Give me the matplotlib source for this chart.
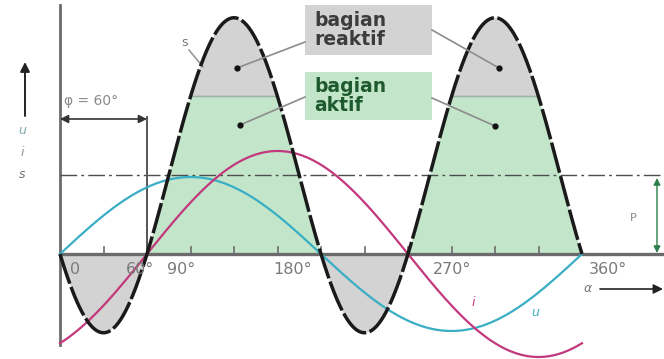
import numpy as np
import matplotlib.pyplot as plt

# sinusoid parameters (amplitudes in pixel-like units)
phi_deg = 60
u_amp = 77
i_amp = 103
s_scale = 315          # peak-to-peak of s is s_scale * (1 + cos phi) / 2
tick_degs = [30, 60, 90, 120, 150, 180, 210, 240, 270, 300, 330]
tick_labels = ['0', '60°', '90°', '180°', '270°', '360°']
tick_label_pos = [0, 60, 90, 180, 270, 360]
tick_label_shift = [15, -7, -9, -28, 1, 26]

# colours
c_u = '#3aaec4'
c_i = '#c2387c'
c_green = '#c3e6cb'
c_gray = '#d3d3d3'
c_axis = '#6b6b6b'

theta = np.linspace(0, 360, 2001)
rad = np.deg2rad(theta)
phi = np.deg2rad(phi_deg)
u = u_amp * np.sin(rad)
i = i_amp * np.sin(rad - phi)
s = s_scale * np.sin(rad) * np.sin(rad - phi)
P = s_scale * np.cos(phi) / 2

fig = plt.figure(figsize=(6.64, 3.59), dpi=100)
ax = fig.add_axes([0, 0, 1, 1])
ax.set_xlim(-60 / 1.45, (664 - 60) / 1.45)
ax.set_ylim(254 - 359, 254)
ax.axis('off')


def px(x, y):
    return (x - 60) / 1.45, 254 - y


# filled areas
ax.fill_between(theta, 0, np.minimum(s, 2 * P), where=s > 0, color=c_green, lw=0, zorder=1)
ax.fill_between(theta, 2 * P, s, where=s > 2 * P, color=c_gray, lw=0, zorder=1)
ax.fill_between(theta, s, 0, where=s < 0, color=c_gray, lw=0, zorder=1)
top = np.where(s > 2 * P, 2 * P, np.nan)
ax.plot(theta, top, color='#9fb3a4', lw=1.2, zorder=2)

# axes
ax.plot([0, 500], [0, 0], color=c_axis, lw=2.4, zorder=3)
ax.plot([0, 0], [254 - 5, 254 - 345], color=c_axis, lw=2, zorder=3)
ax.plot([0, 500], [P, P], color='#4d4d4d', lw=1, ls=(0, (12, 3, 2, 3)), zorder=3)
for d in tick_degs:
    ax.plot([d, d], [0, 7], color=c_axis, lw=1.2, zorder=3)
for lab, d, dx in zip(tick_labels, tick_label_pos, tick_label_shift):
    ax.text(d + dx / 1.45, -16, lab, color='#7a7a7a', fontsize=11.5,
            ha='center', va='center', zorder=6)

# curves
ax.plot(theta, u, color=c_u, lw=1.6, zorder=4)
ax.plot(theta, i, color=c_i, lw=1.6, zorder=4)
ax.plot(theta, s, color='#1a1a1a', lw=2.5, ls=(0, (9, 1)), zorder=5)

# phase shift annotation
ax.plot([phi_deg, phi_deg], [0, 254 - 117], color='#555555', lw=1.4, zorder=3)
ax.annotate('', xy=(0, 254 - 119), xytext=(phi_deg, 254 - 119),
            arrowprops=dict(arrowstyle='<|-|>', color='#333333', lw=1.2,
                            mutation_scale=12, shrinkA=0, shrinkB=0))
ax.text(*px(91, 101), 'φ = 60°', color='#8a8a8a', fontsize=10, ha='center', va='center')

# y label with arrow
ax.annotate('', xy=px(25, 62), xytext=px(25, 116),
            arrowprops=dict(arrowstyle='-|>', color='#222222', lw=1.4,
                            mutation_scale=14, shrinkA=0, shrinkB=0))
ax.text(*px(22, 130), 'u', color='#7fa8a8', fontsize=9, style='italic', ha='center', va='center')
ax.text(*px(22, 153), 'i', color='#9a8a8e', fontsize=9, style='italic', ha='center', va='center')
ax.text(*px(22, 175), 's', color='#707070', fontsize=9, style='italic', ha='center', va='center')

# x label with arrow
ax.text(*px(588, 289), 'α', color='#7a7a7a', fontsize=9, style='italic', ha='center', va='center')
ax.annotate('', xy=px(663, 289), xytext=px(600, 289),
            arrowprops=dict(arrowstyle='-|>', color='#222222', lw=1.2,
                            mutation_scale=14, shrinkA=0, shrinkB=0))

# P double arrow on the right
ax.annotate('', xy=px(657, 178), xytext=px(657, 253),
            arrowprops=dict(arrowstyle='<|-|>', color='#2e7d4a', lw=1.0,
                            mutation_scale=10, shrinkA=0, shrinkB=0))
ax.text(*px(633, 218), 'P', color='#8a8a8a', fontsize=8, ha='center', va='center')

# curve labels
ax.text(*px(473, 302), 'i', color=c_i, fontsize=9, style='italic', ha='center', va='center')
ax.text(*px(535, 313), 'u', color=c_u, fontsize=9, style='italic', ha='center', va='center')
ax.text(*px(185, 42), 's', color='#777777', fontsize=9, ha='center', va='center')
ax.plot(*zip(px(189, 50), px(203, 67)), color='#999999', lw=1.2, zorder=3)

# boxes
ax.add_patch(plt.Rectangle(px(305, 55), 127 / 1.45, 50, color=c_gray, lw=0, zorder=2))
ax.add_patch(plt.Rectangle(px(305, 120), 127 / 1.45, 48, color=c_green, lw=0, zorder=2))
ax.text(*px(314, 30), 'bagian\nreaktif', color='#3c3c3c', fontsize=13.5,
        fontweight='bold', ha='left', va='center', linespacing=0.95, zorder=6)
ax.text(*px(314, 96), 'bagian\naktif', color='#1f5a2e', fontsize=13.5,
        fontweight='bold', ha='left', va='center', linespacing=0.95, zorder=6)

# leader lines and dots
leaders = [((305, 42), (237, 68)), ((432, 30), (499, 68)),
           ((305, 97), (240, 125)), ((432, 98), (495, 126))]
for a, b in leaders:
    ax.plot(*zip(px(*a), px(*b)), color='#8c8c8c', lw=1.2, zorder=6)
    ax.plot(*px(*b), 'o', color='#111111', ms=3.5, zorder=7)

fig.savefig('out.png', dpi=100)
